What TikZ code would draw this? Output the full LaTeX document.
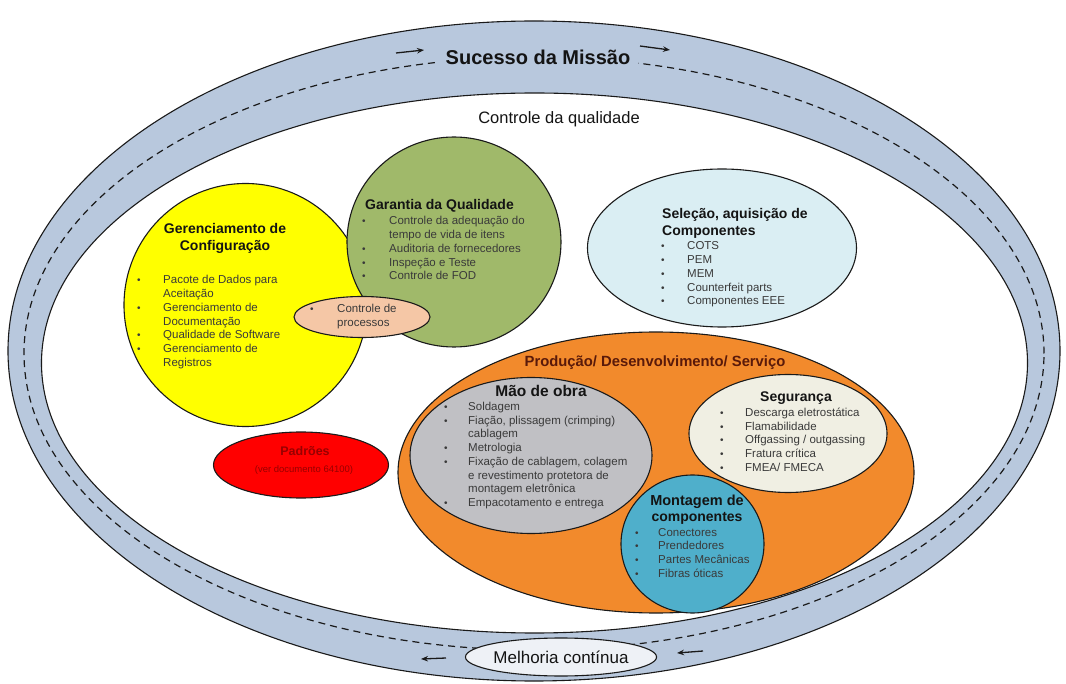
\documentclass[tikz,border=0pt]{standalone}
\usepackage{fontspec}
\setmainfont{Liberation Sans}
\usetikzlibrary{shapes.geometric,arrows.meta}
\definecolor{ring}{HTML}{B8C8DD}
\definecolor{edge}{HTML}{1A1A1A}
\definecolor{ycol}{HTML}{FFFF00}
\definecolor{gcol}{HTML}{A0B96A}
\definecolor{pcol}{HTML}{F5C7A6}
\definecolor{scol}{HTML}{DAEEF3}
\definecolor{rcol}{HTML}{FF0000}
\definecolor{ocol}{HTML}{F28A2C}
\definecolor{mcol}{HTML}{C0C0C4}
\definecolor{secol}{HTML}{F0EFE3}
\definecolor{tcol}{HTML}{4FAFCB}
\definecolor{mecol}{HTML}{EEF1F6}
\definecolor{tgray}{HTML}{3A3A3A}
\definecolor{tdark}{HTML}{141414}
\definecolor{tmaroon}{HTML}{5A1A0A}
\definecolor{tred}{HTML}{980000}
\newcommand{\bu}{{\fontsize{10}{10}\selectfont\textbullet}}
\begin{document}
\begin{tikzpicture}[x=1pt,y=-1pt,
  shp/.style={ellipse, draw=edge, line width=1.1pt, inner sep=0pt},
  lst/.style={inner sep=0pt, anchor=base west, text=tgray, font=\fontsize{11.5}{13.75}\selectfont},
  ttl/.style={inner sep=0pt, anchor=base, text=tdark, font=\bfseries\fontsize{14}{17}\selectfont},
  arr/.style={-{Stealth[length=7pt,width=5.5pt]}, line width=1.3pt, draw=edge}]
\useasboundingbox (0,0) rectangle (1066,684);
\fill[white] (0,0) rectangle (1066,684);
% ring
\node[shp, fill=ring, minimum width=1052pt, minimum height=660pt] (outer) at (534,351) {};
\node[shp, fill=white, minimum width=986pt, minimum height=540pt] (inner) at (534.5,363) {};
\draw[edge, line width=1.2pt, dash pattern=on 7pt off 5pt] (534,353.5) ellipse [x radius=510pt, y radius=296.5pt];
\node[inner xsep=8pt, inner ysep=2pt, fill=ring, anchor=base, text=tdark, font=\bfseries\fontsize{20}{24}\selectfont] (mission) at (538,65) {Sucesso da Missão};
\node[shp, fill=mecol, minimum width=191pt, minimum height=38pt, text=tdark, font=\fontsize{17}{20}\selectfont] (melhoria) at (561,657) {Melhoria contínua};
\coordinate (a1s) at (396,53); \coordinate (a1e) at (424,50);
\coordinate (a2s) at (640,46); \coordinate (a2e) at (670,50);
\coordinate (a3s) at (446,658); \coordinate (a3e) at (421,659);
\coordinate (a4s) at (703,651); \coordinate (a4e) at (677,653);
\draw[arr] (a1s) -- (a1e);
\draw[arr] (a2s) -- (a2e);
\draw[arr] (a3s) -- (a3e);
\draw[arr] (a4s) -- (a4e);
\node[inner sep=0pt, anchor=base, text=tdark, font=\fontsize{16.5}{20}\selectfont] (cq) at (559,124) {Controle da qualidade};
% shapes
\node[shp, fill=ycol, minimum width=243pt, minimum height=243pt] (gc) at (245.5,305) {};
\node[shp, fill=gcol, minimum width=214pt, minimum height=210pt] (ga) at (454,242) {};
\node[shp, fill=pcol, minimum width=136pt, minimum height=41pt] (cp) at (362,317) {};
\node[shp, fill=scol, minimum width=269pt, minimum height=158pt] (sel) at (722,248) {};
\node[shp, fill=rcol, minimum width=175pt, minimum height=66pt] (pad) at (301,465) {};
\node[shp, fill=ocol, minimum width=516pt, minimum height=281pt] (prod) at (656,472.5) {};
\node[shp, fill=mcol, minimum width=242pt, minimum height=156pt] (mao) at (531,455.5) {};
\node[shp, fill=secol, minimum width=198pt, minimum height=118pt] (seg) at (788,433.5) {};
\node[shp, fill=tcol, minimum width=143pt, minimum height=138pt] (mont) at (692.5,544) {};
% texts
\node[ttl] (gcT) at (225,234) {\begin{tabular}[t]{@{}c@{}}Gerenciamento de\\Configuração\end{tabular}};
\node[lst] (gcL) at (137,284) {\begin{tabular}[t]{@{}p{26pt}@{}l@{}}
\bu & Pacote de Dados para\\ & Aceitação\\ \bu & Gerenciamento de\\ & Documentação\\
\bu & Qualidade de Software\\ \bu & Gerenciamento de\\ & Registros\end{tabular}};
\node[ttl, anchor=base west] (gaT) at (365,210) {Garantia da Qualidade};
\node[lst] (gaL) at (362,225) {\begin{tabular}[t]{@{}p{27pt}@{}l@{}}
\bu & Controle da adequação do\\ & tempo de vida de itens\\ \bu & Auditoria de fornecedores\\
\bu & Inspeção e Teste\\ \bu & Controle de FOD\end{tabular}};
\node[lst] (cpL) at (310,313) {\begin{tabular}[t]{@{}p{27pt}@{}l@{}}
\bu & Controle de\\ & processos\end{tabular}};
\node[ttl, anchor=base west] (selT) at (662,219) {\begin{tabular}[t]{@{}l@{}}\fontsize{14}{15}\selectfont Seleção, aquisição de\\Componentes\end{tabular}};
\node[lst] (selL) at (661,250) {\begin{tabular}[t]{@{}p{26pt}@{}l@{}}
\bu & COTS\\ \bu & PEM\\ \bu & MEM\\ \bu & Counterfeit parts\\ \bu & Componentes EEE\end{tabular}};
\node[inner sep=0pt, anchor=base, text=tred, font=\bfseries\fontsize{12.5}{14}\selectfont] (padT) at (305,456) {Padrões};
\node[inner sep=0pt, anchor=base, text=tred, font=\fontsize{9.5}{11}\selectfont] (padS) at (304,473) {(ver documento 64100)};
\node[ttl, text=tmaroon, font=\bfseries\fontsize{14.8}{17}\selectfont] (prodT) at (655,367) {Produção/ Desenvolvimento/ Serviço};
\node[ttl, font=\bfseries\fontsize{15.5}{17}\selectfont] (maoT) at (541,397) {Mão de obra};
\node[lst] (maoL) at (444,410.5) {\begin{tabular}[t]{@{}p{24pt}@{}l@{}}
\bu & Soldagem\\ \bu & Fiação, plissagem (crimping)\\ & cablagem\\ \bu & Metrologia\\
\bu & Fixação de cablagem, colagem\\ & e revestimento protetora de\\ & montagem eletrônica\\
\bu & Empacotamento e entrega\end{tabular}};
\node[ttl] (segT) at (796,402) {Segurança};
\node[lst] (segL) at (720,416.5) {\begin{tabular}[t]{@{}p{25pt}@{}l@{}}
\bu & Descarga eletrostática\\ \bu & Flamabilidade\\ \bu & Offgassing / outgassing\\
\bu & Fratura crítica\\ \bu & FMEA/ FMECA\end{tabular}};
\node[ttl] (montT) at (697,505) {\begin{tabular}[t]{@{}c@{}}\fontsize{14.5}{16}\selectfont Montagem de\\componentes\end{tabular}};
\node[lst] (montL) at (635,536) {\begin{tabular}[t]{@{}p{23pt}@{}l@{}}
\bu & Conectores\\ \bu & Prendedores\\ \bu & Partes Mecânicas\\ \bu & Fibras óticas\end{tabular}};
\end{tikzpicture}
\end{document}
